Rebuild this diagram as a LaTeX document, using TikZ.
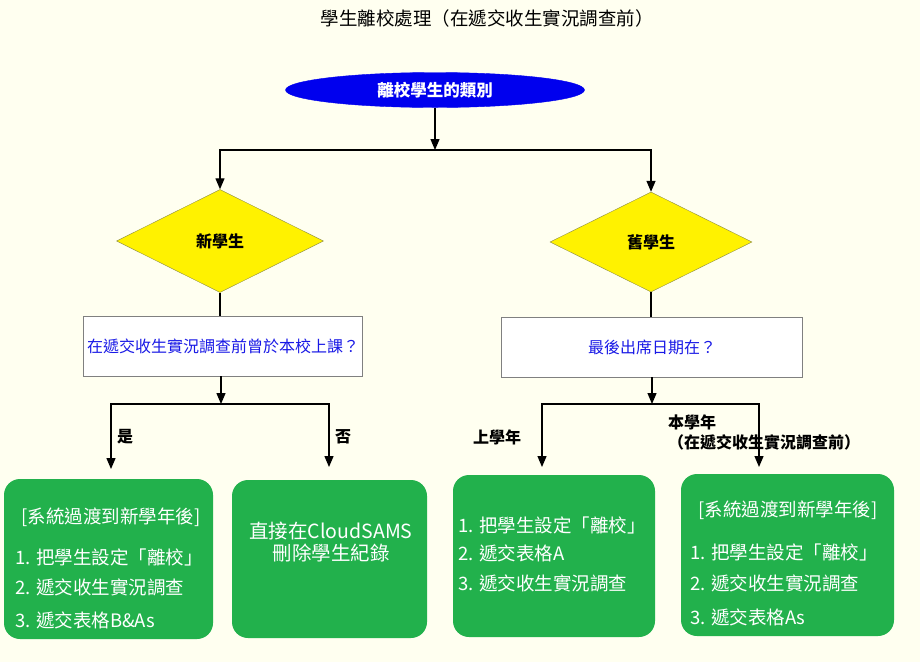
\documentclass[tikz,border=0pt]{standalone}
\usepackage{fontspec}
\setmainfont{Noto Sans CJK TC}
\usetikzlibrary{shapes.geometric,arrows.meta,calc}
\definecolor{bgc}{RGB}{255,255,240}
\definecolor{gboxc}{RGB}{34,177,76}
\definecolor{ellblue}{RGB}{0,0,238}
\definecolor{txtblue}{RGB}{25,25,230}
\definecolor{dborder}{RGB}{140,140,70}
\begin{document}
\begin{tikzpicture}[x=1pt,y=-1pt,
  arr/.style={-{Triangle[length=11pt,width=9pt]}, line width=1.3pt},
  conn/.style={line width=1.3pt},
  ell/.style={ellipse, fill=ellblue, draw=ellblue, inner sep=0, text=white,
    font=\fontsize{16.5}{19}\selectfont\bfseries},
  dia/.style={diamond, draw=dborder, fill=yellow, inner sep=0,
    font=\fontsize{16}{19}\selectfont\bfseries},
  qbox/.style={rectangle, draw=gray, fill=white, inner sep=0, text=txtblue,
    font=\fontsize{16}{19}\selectfont},
  gbox/.style={rectangle, rounded corners=16pt, fill=gboxc, inner sep=0},
  gtxt/.style={text=white, font=\fontsize{18.5}{22}\selectfont, inner sep=0, anchor=west},
  ghead/.style={text=white, font=\fontsize{18.5}{22}\selectfont, inner sep=0, align=center},
  lbl/.style={font=\fontsize{16}{19}\selectfont\bfseries, inner sep=0},
]
\fill[bgc] (0,0) rectangle (920,662);
\useasboundingbox (0,0) rectangle (920,662);

% title
\node[font=\fontsize{18.5}{22}\selectfont, inner sep=0] (title) at (487,18) {學生離校處理（在遞交收生實況調查前）};

% top ellipse
\node[ell, minimum width=299, minimum height=35] (top) at (435,90) {離校學生的類別};
\coordinate (j1) at (435,150);

% diamonds
\node[dia, minimum width=207, minimum height=103] (dn) at (220,241) {新學生};
\node[dia, minimum width=202, minimum height=100] (do) at (651,242) {舊學生};

% question boxes
\node[qbox, minimum width=279, minimum height=60] (qn) at (223,346) {在遞交收生實況調查前曾於本校上課？};
\node[qbox, minimum width=301, minimum height=60] (qo) at (652,347) {最後出席日期在？};

% connectors top
\draw[arr] (top.south) -- (j1);
\draw[arr] (j1) -| (dn.north);
\draw[arr] (j1) -| (do.north);
\draw[conn] (dn.south) -- (dn.south |- qn.north);
\draw[conn] (do.south) -- (do.south |- qo.north);

% left branch
\coordinate (jn) at (221,404);
\coordinate (eyes) at (111,469);
\coordinate (eno) at (329,467);
\draw[arr] (qn.south -| jn) -- (jn);
\draw[arr] (jn) -| (eyes);
\draw[arr] (jn) -| (eno);

% right branch
\coordinate (jo) at (652,404);
\coordinate (elast) at (542,467);
\coordinate (ethis) at (759,467);
\draw[arr] (qo.south -| jo) -- (jo);
\draw[arr] (jo) -| (elast);
\draw[arr] (jo) -| (ethis);

% labels
\node[lbl] (lyes) at (125,437) {是};
\node[lbl] (lno) at (343,437) {否};
\node[lbl] (llast) at (497,437) {上學年};
\node[lbl, anchor=west] (lthis) at (668,422) {本學年};
\node[lbl] (lthis2) at (764,442) {（在遞交收生實況調查前）};

% green boxes
\node[gbox, minimum width=209, minimum height=160] (b1) at (108.5,559) {};
\node[gbox, minimum width=195, minimum height=158] (b2) at (329.5,559) {};
\node[gbox, minimum width=202, minimum height=162] (b3) at (554,556) {};
\node[gbox, minimum width=213, minimum height=162] (b4) at (787.5,555) {};

% box 1 text
\node[ghead] (b1h) at (111,517) {[系統過渡到新學年後]};
\node[gtxt] (b1a) at (15,557) {1. 把學生設定「離校」};
\node[gtxt] (b1b) at (15,587) {2. 遞交收生實況調查};
\node[gtxt] (b1c) at (15,620) {3. 遞交表格B\&As};

% box 2 text
\node[ghead, font=\fontsize{19.5}{22.5}\selectfont] (b2t) at (331,542) {直接在CloudSAMS\\刪除學生紀錄};

% box 3 text
\node[gtxt] (b3a) at (458,525) {1. 把學生設定「離校」};
\node[gtxt] (b3b) at (458,553) {2. 遞交表格A};
\node[gtxt] (b3c) at (458,583) {3. 遞交收生實況調查};

% box 4 text
\node[ghead] (b4h) at (788,510) {[系統過渡到新學年後]};
\node[gtxt] (b4a) at (690,552) {1. 把學生設定「離校」};
\node[gtxt] (b4b) at (690,583) {2. 遞交收生實況調查};
\node[gtxt] (b4c) at (690,617) {3. 遞交表格As};
\end{tikzpicture}
\end{document}
